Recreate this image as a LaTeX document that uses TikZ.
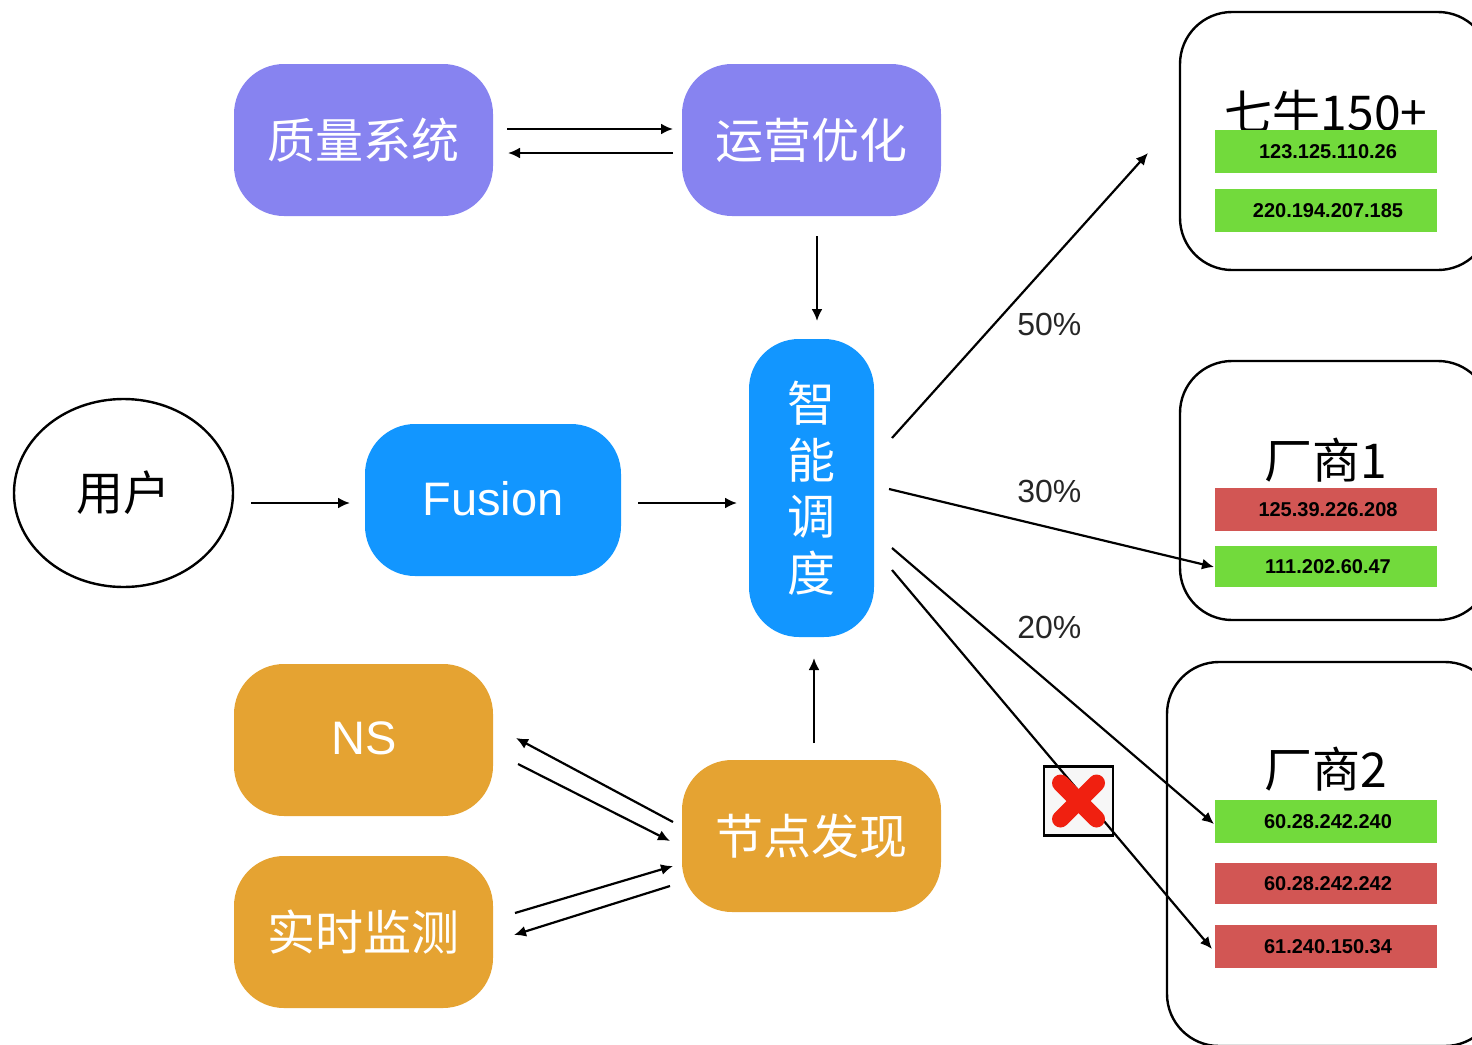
\documentclass[tikz,border=0pt]{standalone}
\usepackage{fontspec}
\setmainfont{Liberation Sans}
\newfontfamily\cjk{Noto Sans CJK SC}
\usetikzlibrary{arrows.meta,shapes.geometric}
\definecolor{purp}{HTML}{8783F0}
\definecolor{blu}{HTML}{1296FF}
\definecolor{orng}{HTML}{E5A332}
\definecolor{grn}{HTML}{72DA3C}
\definecolor{rd}{HTML}{D25654}
\definecolor{xred}{HTML}{F02010}
\newcommand{\iplabel}[1]{\hspace*{2pt}\raisebox{-0.6pt}{#1}}
\tikzset{
  x=0.5pt,y=-0.5pt,
  flow/.style={draw=black,line width=1.1pt,-{Latex[length=6pt,width=5.5pt]}},
  softbox/.style={rounded corners=25pt,inner sep=0pt,text=white,minimum height=76pt,font=\cjk\fontsize{24}{24}\selectfont},
  widebox/.style={softbox,minimum width=129.5pt},
  vendor/.style={draw=black,line width=1.2pt,rounded corners=26pt,fill=white,inner sep=0pt},
  ipbar/.style={minimum width=111pt,inner sep=0pt,font=\bfseries\fontsize{10}{10}\selectfont,text=black},
  vtitle/.style={inner sep=0pt,font=\cjk\fontsize{24}{24}\selectfont},
  pct/.style={inner sep=0pt,anchor=west,text=black!85,font=\fontsize{16}{16}\selectfont},
}
\begin{document}
\begin{tikzpicture}
\useasboundingbox (0,0) rectangle (1472,1044);
\clip (0,0) rectangle (1472,1044);
% vendor containers
\node[vendor,minimum width=155pt,minimum height=129pt] (v1) at (1335,141) {};
\node[vendor,minimum width=155pt,minimum height=129.5pt] (v2) at (1335,490.5) {};
\node[vendor,minimum width=165pt,minimum height=192pt] (v3) at (1332,854) {};
% titles
\node[vtitle] (t1) at (1326,112) {七牛150+};
\node[vtitle] (t2) at (1326,460) {厂商1};
\node[vtitle] (t3) at (1326,769) {厂商2};
% IP bars
\node[ipbar,fill=grn,minimum height=21.5pt] (a1) at (1326,151.5) {\iplabel{123.125.110.26}};
\node[ipbar,fill=grn,minimum height=21.5pt] (a2) at (1326,210.5) {\iplabel{220.194.207.185}};
\node[ipbar,fill=rd,minimum height=21.5pt] (b1) at (1326,509.5) {\iplabel{125.39.226.208}};
\node[ipbar,fill=grn,minimum height=20.5pt] (b2) at (1326,566.5) {\iplabel{111.202.60.47}};
\node[ipbar,fill=grn,minimum height=21.5pt] (c1) at (1326,821.5) {\iplabel{60.28.242.240}};
\node[ipbar,fill=rd,minimum height=20.5pt] (c2) at (1326,883.5) {\iplabel{60.28.242.242}};
\node[ipbar,fill=rd,minimum height=21.5pt] (c3) at (1326,946.5) {\iplabel{61.240.150.34}};
% main nodes
\node[widebox,fill=purp] (q) at (363.5,140) {质量系统};
\node[widebox,fill=purp] (o) at (811.5,140) {运营优化};
\node[softbox,fill=blu,minimum width=128pt,font=\fontsize{23.5}{23.5}\selectfont] (f) at (493,500) {\raisebox{1.2pt}{Fusion}};
\node[softbox,fill=blu,minimum width=62.5pt,minimum height=149pt,font=\cjk\fontsize{24}{27.5}\selectfont] (s) at (811.5,488) {\raisebox{-9.5pt}[0pt][0pt]{\begin{tabular}{@{}c@{}}智\\能\\调\\度\end{tabular}}};
\node[widebox,fill=orng,font=\fontsize{23.5}{23.5}\selectfont] (ns) at (363.5,740) {\hspace*{1pt}\raisebox{2pt}{NS}};
\node[widebox,fill=orng] (m) at (363.5,932) {实时监测};
\node[widebox,fill=orng] (d) at (811.5,836) {节点发现};
\node[ellipse,draw=black,line width=1.2pt,inner sep=0pt,minimum width=109.5pt,minimum height=94pt,font=\cjk\fontsize{23.5}{23.5}\selectfont] (u) at (123.5,493) {\raisebox{1pt}{用户}};
% failed mark box (below the crossing connector)
\node[draw=black,line width=1.1pt,fill=black!3,minimum width=34.5pt,minimum height=34.5pt,inner sep=0pt] (x) at (1078.5,801) {};
% connector ends
\foreach \n/\px/\py in {
 qa/507/129,qb/673/129,qc/673/153,qd/508/153,
 oa/817/236,ob/817/321,da/814/743,db/814/658,
 ua/251/503,ub/350/503,fa/638/503,fb/737/503,
 sa/892/438,sb/1148/153,sc/889/489,sd/1214/567,
 se/892/548,sf/1214/824,sg/892/570,sh/1212/949,
 na/673/822,nb/516/738,nc/518/764,nd/670/841,
 ma/515/913,mb/673/866,mc/670/886,md/514/935}
  \coordinate (\n) at (\px,\py);
\draw[flow] (qa) -- (qb);
\draw[flow] (qc) -- (qd);
\draw[flow] (oa) -- (ob);
\draw[flow] (da) -- (db);
\draw[flow] (ua) -- (ub);
\draw[flow] (fa) -- (fb);
\draw[flow] (sa) -- (sb);
\draw[flow] (sc) -- (sd);
\draw[flow] (se) -- (sf);
\draw[flow] (sg) -- (sh);
\draw[flow] (na) -- (nb);
\draw[flow] (nc) -- (nd);
\draw[flow] (ma) -- (mb);
\draw[flow] (mc) -- (md);
% percentages
\node[pct] (p1) at (1017,324) {50\%};
\node[pct] (p2) at (1017,491) {30\%};
\node[pct] (p3) at (1017,627) {20\%};
% red cross
\draw[xred,line width=8.5pt,line cap=round] (1060.5,783) -- (1096.5,819);
\draw[xred,line width=8.5pt,line cap=round] (1096.5,783) -- (1060.5,819);
\end{tikzpicture}
\end{document}
